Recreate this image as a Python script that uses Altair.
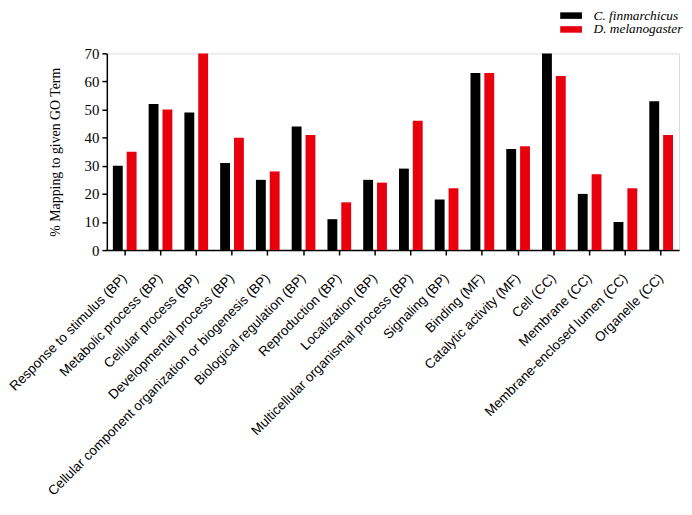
import altair as alt
import pandas as pd

categories = [
    "Response to stimulus (BP)", "Metabolic process (BP)", "Cellular process (BP)",
    "Developmental process (BP)", "Cellular component organization or biogenesis (BP)",
    "Biological regulation (BP)", "Reproduction (BP)", "Localization (BP)",
    "Multicellular organismal process (BP)", "Signaling (BP)", "Binding (MF)",
    "Catalytic activity (MF)", "Cell (CC)", "Membrane (CC)",
    "Membrane-enclosed lumen (CC)", "Organelle (CC)",
]
c_finmarchicus = [30, 52, 49, 31, 25, 44, 11, 25, 29, 18, 63, 36, 70, 20, 10, 53]
d_melanogaster = [35, 50, 70, 40, 28, 41, 17, 24, 46, 22, 63, 37, 62, 27, 22, 41]
series = ["C. finmarchicus", "D. melanogaster"]
colors = ["#000000", "#e8000d"]
y_ticks = [0, 10, 20, 30, 40, 50, 60, 70]

rows = []
for i, c in enumerate(categories):
    rows.append({"cat": c, "species": series[0], "value": c_finmarchicus[i]})
    rows.append({"cat": c, "species": series[1], "value": d_melanogaster[i]})
df = pd.DataFrame(rows)

chart = alt.Chart(df).mark_bar().encode(
    x=alt.X("cat:N", sort=categories,
            scale=alt.Scale(paddingInner=0.337, paddingOuter=0.169),
            axis=alt.Axis(title=None, labelAngle=-45, labelAlign="right",
                          labelBaseline="middle", labelPadding=21,
                          labelFont="Liberation Sans", labelFontSize=13.6,
                          labelColor="#000", tickColor="#000", domainColor="#000",
                          tickSize=5, domainWidth=1.5, tickWidth=1.5,
                          labelLimit=0, labelOverlap=False)),
    xOffset=alt.XOffset("species:N", sort=series,
                        scale=alt.Scale(paddingInner=0.286, paddingOuter=0)),
    y=alt.Y("value:Q", scale=alt.Scale(domain=[0, 70], nice=False),
            axis=alt.Axis(title="%  Mapping to given GO Term", values=y_ticks,
                          grid=False, labelFont="Liberation Serif", labelFontSize=15,
                          labelColor="#000", titleFont="Liberation Serif",
                          titleFontSize=14, titleFontWeight="normal", titleColor="#000",
                          titlePadding=22, tickColor="#000", domainColor="#000",
                          tickSize=5, domainWidth=1.5, tickWidth=1.5, labelPadding=3)),
    color=alt.Color("species:N", sort=series,
                    scale=alt.Scale(domain=series, range=colors),
                    legend=alt.Legend(title=None, orient="none", legendX=463, legendY=-45,
                                      symbolType="M-2,-0.6L2,-0.6L2,0.6L-2,0.6Z",
                                      symbolSize=121, symbolStrokeWidth=0,
                                      labelFont="Liberation Serif", labelFontStyle="italic",
                                      labelFontSize=13.5, labelColor="#000", labelLimit=0,
                                      rowPadding=-1, labelOffset=16, padding=0)),
).properties(
    width=579, height=199,
    autosize=alt.AutoSizeParams(type="none"),
    padding={"left": 100, "top": 43, "right": 5, "bottom": 256},
).configure_view(stroke=None).configure(background="white")

chart.save("out.html", embed_options={"renderer": "svg", "actions": False})
